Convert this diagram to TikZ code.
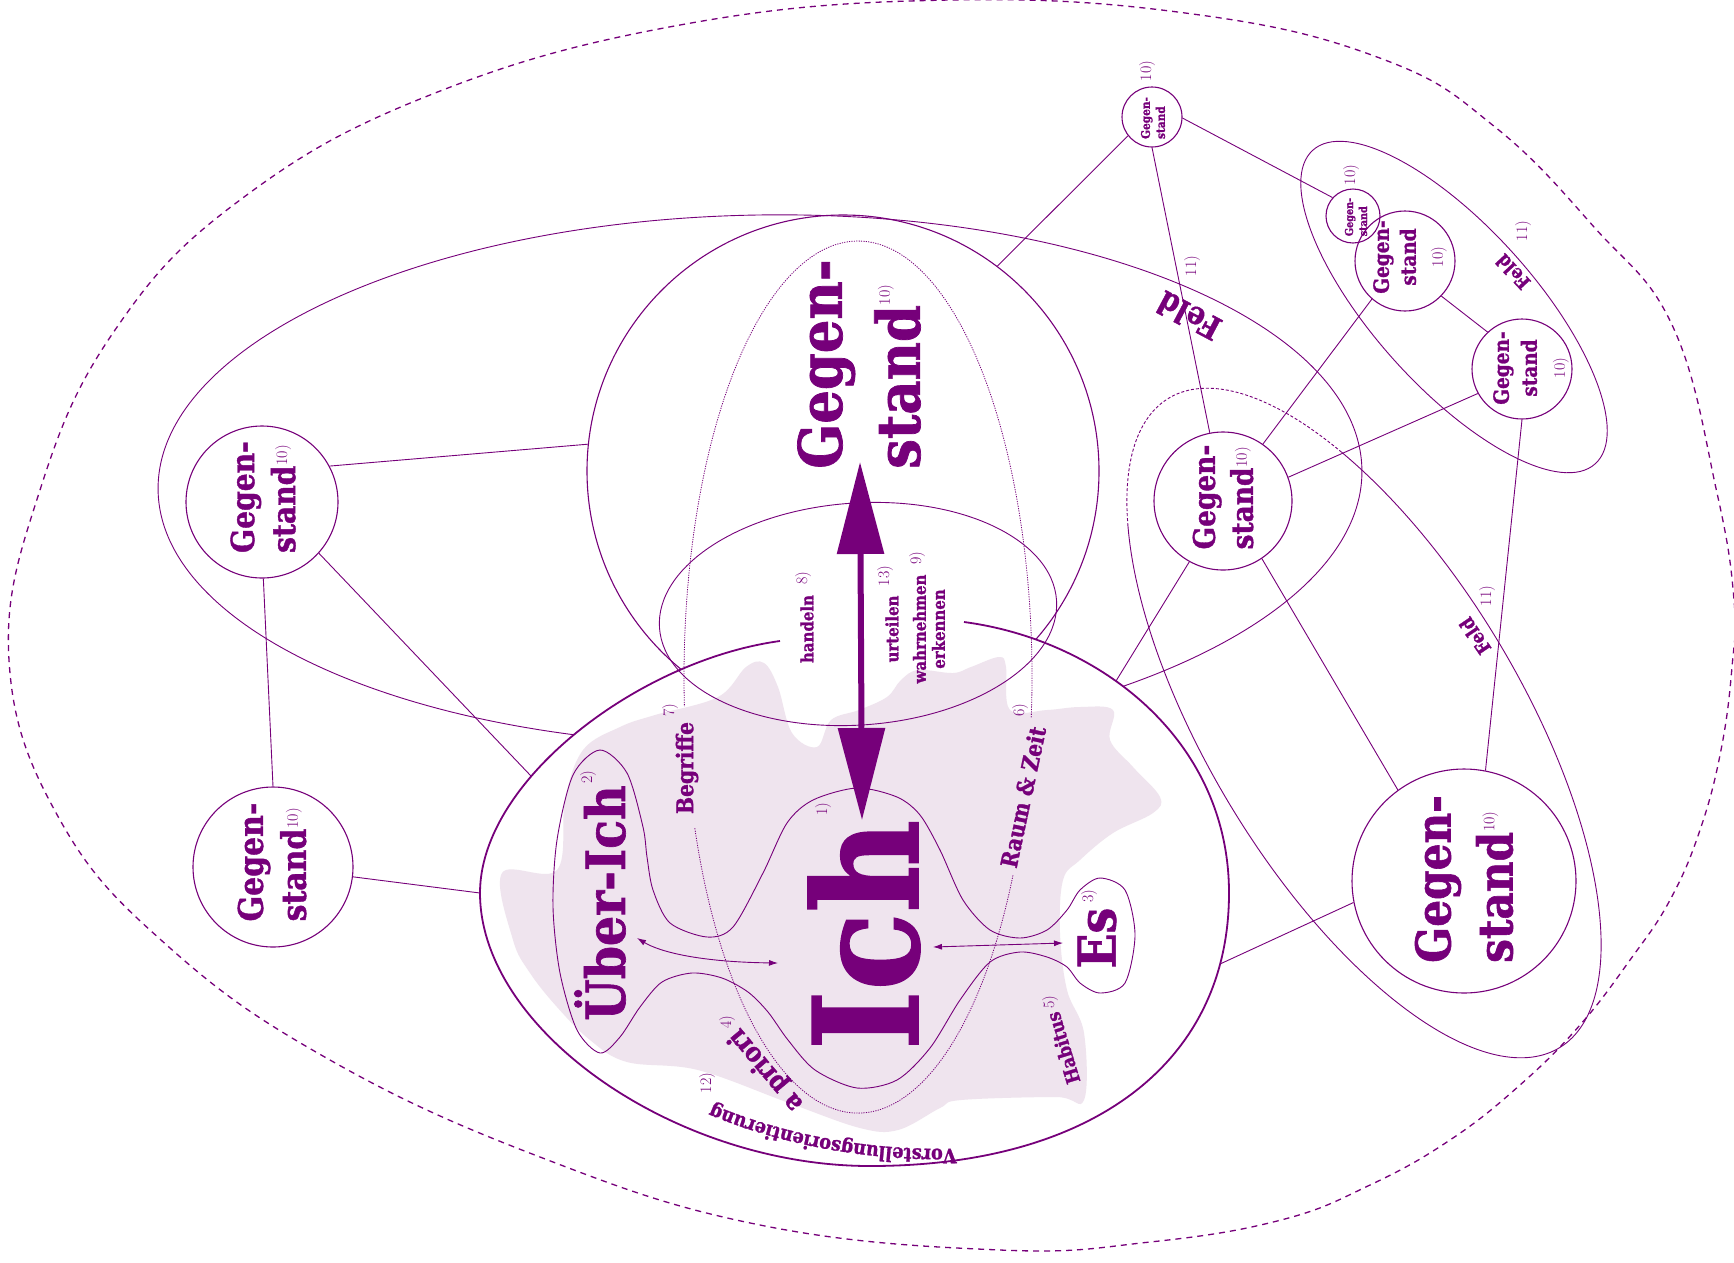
\documentclass[tikz,border=0pt]{standalone}
\usepackage{fontspec}
\usepackage{tikz}
\usetikzlibrary{arrows.meta,decorations.text}
\newfontfamily\slab{DejaVu Serif}[FakeStretch=0.88,BoldFeatures={FakeBold=1.2}]
\definecolor{plum}{HTML}{76007A}
\definecolor{haze}{HTML}{EFE4EE}
\newcommand\slabf[2]{\slab\bfseries\fontsize{#1}{#2}\selectfont}
\newcommand\notefont{\normalfont\fontsize{16}{16}\selectfont}
\newcommand\vfont{\slabf{20}{20}}
\newcommand\hoch[1]{\raisebox{#1}{\notefont 10)}}

\begin{document}
\begin{tikzpicture}[x=1pt,y=1pt,
    wire/.style={draw=plum,line width=0.9pt},
    ring/.style={circle,draw=plum,line width=1.1pt,inner sep=0pt},
    lab/.style={text=plum,inner sep=0pt},
    word/.style={lab,rotate=90,align=left},
    fn/.style={lab,font=\notefont,rotate=90},
    dblarrow/.style={{Latex[length=9pt,width=6pt]}-{Latex[length=9pt,width=6pt]}}]
  \useasboundingbox (0,0) rectangle (1734,-1262);

  \draw[plum,line width=1.3pt,dash pattern=on 6pt off 5pt] plot[smooth cycle,tension=0.7] coordinates {
    (9,-660) (40,-490) (115,-330) (240,-200) (430,-95) (680,-25) (950,0) (1200,-15)
    (1385,-60) (1495,-127) (1594,-227) (1673,-327) (1717,-493) (1734,-600) (1732,-667)
    (1721,-750) (1700,-830) (1670,-900) (1630,-960) (1580,-1025) (1520,-1085) (1450,-1140)
    (1370,-1185) (1281,-1220) (1150,-1242) (1000,-1250) (760,-1225) (540,-1157) (330,-1060)
    (170,-948) (60,-820)};

  \draw[wire,rotate around={1:(760,-480)}] (760,-480) ellipse[x radius=602,y radius=265];
  \draw[wire,rotate around={-48:(1454,-307)}] (1454,-307) ellipse[x radius=211,y radius=80];
  \draw[wire,rotate around={-59:(1364,-723)}] (1364,-723) ++(220:379 and 157)
    arc[start angle=220,end angle=490,x radius=379,y radius=157];
  \draw[wire,dash pattern=on 3pt off 2pt,rotate around={-59:(1364,-723)}] (1364,-723) ++(130:379 and 157)
    arc[start angle=130,end angle=220,x radius=379,y radius=157];

  \node[ring,minimum size=512pt] (gBig) at (843,-471) {};
  \node[ring,minimum size=152pt] (gA) at (262,-502) {};
  \node[ring,minimum size=160pt] (gB) at (273,-867) {};
  \node[ring,minimum size=60pt] (gC) at (1152,-117) {};
  \node[ring,minimum size=54pt] (gD) at (1353,-216) {};
  \node[ring,minimum size=100pt] (gE) at (1405,-261) {};
  \node[ring,minimum size=100pt] (gF) at (1522,-369) {};
  \node[ring,minimum size=138pt] (gG) at (1223,-501) {};
  \node[ring,minimum size=224pt] (gH) at (1464,-881) {};

  \coordinate (ichA) at (531,-776);
  \coordinate (ichB) at (480,-893);
  \coordinate (ichG) at (1116,-681);
  \coordinate (ichH) at (1220,-964);

  \draw[wire] (gA.28) -- (gBig.174);
  \draw[wire] (gA.-42) -- (ichA);
  \draw[wire] (gA.-89) -- (gB.90);
  \draw[wire] (gB.-7) -- (ichB);
  \draw[wire] (gC.218) -- (gBig.53);
  \draw[wire] (gC.-2) -- (gD.138);
  \draw[wire] (gC.-90) -- (gG.101);
  \draw[wire] (gE.229) -- (gG.55);
  \draw[wire] (gF.209) -- (gG.20);
  \draw[wire] (gE.-44) -- (gF.133);
  \draw[wire] (gF.-90) -- (gH.79);
  \draw[wire] (gG.-56) -- (gH.126);
  \draw[wire] (gG.241) -- (ichG);
  \draw[wire] (gH.191) -- (ichH);

  \fill[white] (964,-622) .. controls (1100,-640) and (1229,-740) .. (1229,-893)
    .. controls (1229,-1062) and (1093,-1166) .. (870,-1166)
    .. controls (675,-1166) and (480,-1030) .. (480,-893)
    .. controls (480,-780) and (640,-660) .. (780,-641)
    .. controls (830,-628) and (920,-618) .. (964,-622) -- cycle;
  \fill[haze] plot[smooth cycle,tension=0.6] coordinates {
    (583,-750) (620,-727) (655,-715) (718,-697) (746,-667) (764,-663) (778,-687) (792,-733)
    (817,-747) (831,-720) (859,-710) (887,-697) (901,-680) (918,-670) (953,-673) (971,-667)
    (999,-657) (1006,-667) (1010,-710) (1047,-710) (1080,-707) (1113,-710) (1110,-740)
    (1133,-767) (1160,-797) (1153,-813) (1113,-833) (1080,-860) (1063,-880) (1060,-933)
    (1067,-990) (1084,-1033) (1084,-1100) (1056,-1097) (961,-1100) (940,-1108) (898,-1130)
    (860,-1128) (789,-1103) (698,-1070) (627,-1062) (590,-1040) (557,-1007) (530,-973)
    (513,-940) (502,-873) (557,-870) (565,-800)};
  \draw[plum,line width=1.8pt] (964,-622) .. controls (1100,-640) and (1229,-740) .. (1229,-893)
    .. controls (1229,-1062) and (1093,-1166) .. (870,-1166)
    .. controls (675,-1166) and (480,-1030) .. (480,-893)
    .. controls (480,-780) and (640,-660) .. (780,-641);

  \draw[wire,rotate around={4:(858,-614)}] (858,-614) ellipse[x radius=199,y radius=111];
  \draw[plum,line width=0.8pt,dash pattern=on 1.2pt off 1.2pt] (858,-677) ++(-5.3:174 and 436)
    arc[start angle=-5.3,end angle=183.9,x radius=174,y radius=436];
  \draw[plum,line width=0.8pt,dash pattern=on 1.2pt off 1.2pt] (858,-677) ++(200.3:174 and 436)
    arc[start angle=200.3,end angle=333,x radius=174,y radius=436];

  \draw[wire] plot[smooth cycle] coordinates {
    (600,-750) (573,-775) (557,-840) (553,-907) (560,-973) (577,-1030) (600,-1053) (620,-1037)
    (640,-1007) (662,-982) (692,-973) (722,-978) (748,-992) (768,-1012) (788,-1040) (815,-1070)
    (857,-1088) (897,-1080) (930,-1048) (960,-1000) (990,-962) (1020,-952) (1047,-957)
    (1067,-967) (1080,-983) (1100,-993) (1125,-983) (1135,-935) (1125,-890) (1100,-878)
    (1080,-890) (1067,-910) (1047,-930) (1020,-938) (990,-930) (963,-900) (940,-850)
    (920,-815) (897,-797) (857,-788) (813,-800) (787,-823) (763,-873) (733,-927) (707,-937)
    (670,-923) (653,-890) (647,-857) (643,-827) (627,-773)};

  \coordinate (bigtop) at (860,-462);
  \coordinate (bigbot) at (862,-820);
  \coordinate (ueA) at (637,-938);
  \coordinate (ichL) at (778,-963);
  \coordinate (ichR) at (933,-947);
  \coordinate (esL) at (1063,-943);
  \draw[plum,line width=6pt,{Triangle[length=92pt,width=46pt]}-{Triangle[length=92pt,width=46pt]}] (bigtop) -- (bigbot);
  \draw[wire,dblarrow] (ueA) .. controls (660,-952) and (700,-962) .. (ichL);
  \draw[wire,dblarrow] (ichR) -- (esL);

  \node[word,font=\slabf{60}{78}] (tBig) at (859,-364) {Gegen-\\stand\hoch{30pt}};
  \node[word,font=\slabf{32}{41}] (tA) at (263,-497) {Gegen-\\stand\hoch{8pt}};
  \node[word,font=\slabf{34}{43}] (tB) at (272,-862) {Gegen-\\stand\hoch{8pt}};
  \node[word,font=\slabf{30}{38}] (tG) at (1223,-497) {Gegen-\\stand\hoch{6pt}};
  \node[word,font=\slabf{48}{62}] (tH) at (1464,-879) {Gegen-\\stand\hoch{18pt}};
  \node[word,align=center,font=\slabf{21}{27}] (tE) at (1410,-257) {Gegen-\\stand\\{\notefont 10)}};
  \node[word,align=center,font=\slabf{21}{28}] (tF) at (1531,-368) {Gegen-\\stand\\{\notefont 10)}};
  \node[word,font=\slabf{12}{15}] (tC) at (1153,-118) {Gegen-\\stand};
  \node[word,font=\slabf{11}{14}] (tD) at (1356,-217) {Gegen-\\stand};
  \node[fn] (nC) at (1147,-71) {10)};
  \node[fn] (nD) at (1351,-175) {10)};

  \node[lab,rotate=152,font=\slabf{32}{32}] (feldA) at (1189,-316) {Feld};
  \node[lab,rotate=133,font=\slabf{19}{19}] (feldB) at (1513,-272) {Feld};
  \node[lab,rotate=124,font=\slabf{19}{19}] (feldC) at (1475,-636) {Feld};
  \node[fn] (nfA) at (1192,-266) {11)};
  \node[fn] (nfB) at (1523,-231) {11)};
  \node[fn] (nfC) at (1487,-596) {11)};

  \node[word,font=\slabf{54}{54}] (ueberich) at (600,-903) {Über-Ich};
  \node[fn] (n2) at (588,-777) {2)};
  \node[word,font=\slabf{23}{23}] (begriffe) at (687,-768) {Begriffe};
  \node[fn] (n7) at (670,-710) {7)};
  \node[word,font=\slabf{145}{145}] (ich) at (864,-935) {Ich};
  \node[fn] (n1) at (823,-809) {1)};
  \node[word,font=\slabf{52}{52}] (es) at (1097,-938) {Es};
  \node[fn] (n3) at (1089,-896) {3)};
  \node[lab,rotate=78,font=\slabf{23}{23}] (raumzeit) at (1023,-797) {Raum \& Zeit};
  \node[fn] (n6) at (1020,-710) {6)};
  \node[lab,rotate=107,font=\slabf{19}{19}] (habitus) at (1063,-1048) {Habitus};
  \node[fn] (n5) at (1050,-1002) {5)};
  \node[lab,rotate=130,font=\slabf{27}{27}] (apriori) at (766,-1070) {a priori};
  \node[fn] (n4) at (727,-1022) {4)};
  \node[fn] (n12) at (707,-1083) {12)};
  \node[word,font=\slabf{17}{17}] (handeln) at (807,-629) {handeln};
  \node[fn] (n8) at (803,-578) {8)};
  \node[word,font=\slabf{17}{17}] (urteilen) at (892,-629) {urteilen};
  \node[fn] (n13) at (885,-576) {13)};
  \node[word,align=center,font=\slabf{17}{19}] (wahrnehmen) at (929,-629) {wahrnehmen\\erkennen};
  \node[fn] (n9) at (917,-558) {9)};

  \path[decorate,decoration={text along path,text={|\vfont|Vorstellungsorientierung},text color=plum,text align=center}]
    (970,-1148) .. controls (880,-1153) and (780,-1136) .. (700,-1099);
\end{tikzpicture}
\end{document}
